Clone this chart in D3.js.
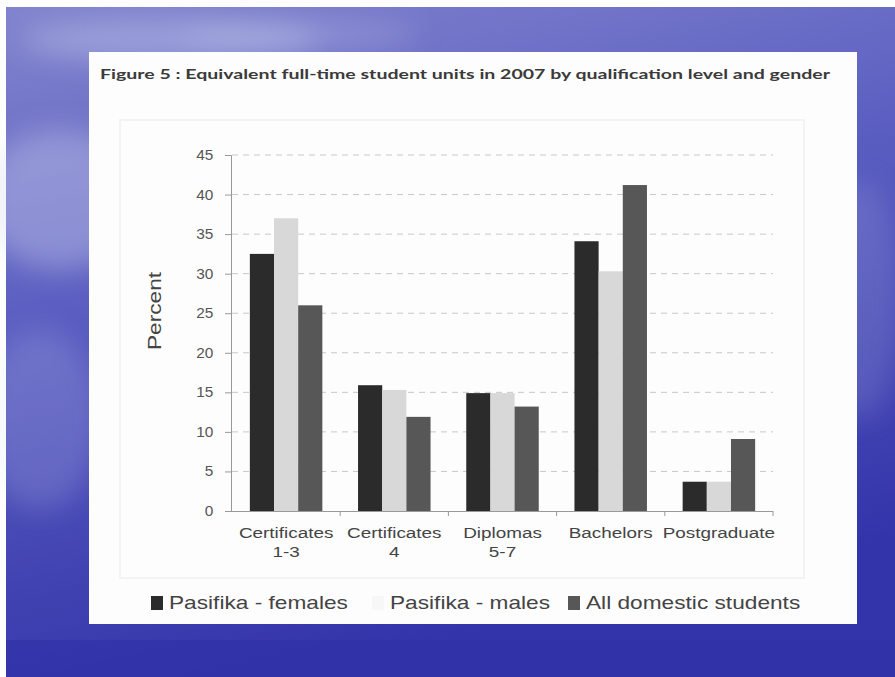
<!DOCTYPE html>
<html lang="en">
<head>
<meta charset="UTF-8">
<title>Figure 5</title>
<script src="https://d3js.org/d3.v7.min.js"></script>
<style>
  body { margin: 0; background: #fff; }
  svg { display: block; }
  .tick text { font-family: "Liberation Sans", Arial, sans-serif; fill: #555; }
  .lbl { font-family: "Liberation Sans", Arial, sans-serif; fill: #444; }
</style>
</head>
<body>
<div id="chart"></div>
<script>
// categories and series
const categories = ["Certificates 1-3", "Certificates 4", "Diplomas 5-7", "Bachelors", "Postgraduate"];
const catLines = [["Certificates", "1-3"], ["Certificates", "4"], ["Diplomas", "5-7"], ["Bachelors"], ["Postgraduate"]];
const seriesNames = ["Pasifika - females", "Pasifika - males", "All domestic students"];
const females = [32.5, 15.9, 14.9, 34.1, 3.7];
const males = [37.0, 15.3, 14.9, 30.3, 3.7];
const allDomestic = [26.0, 11.9, 13.2, 41.2, 9.1];
const yTicks = [0, 5, 10, 15, 20, 25, 30, 35, 40, 45];

const W = 895, H = 677;
const stretch = 1.26; // the scanned figure is widened
const svg = d3.select('#chart').append('svg').attr('width', W).attr('height', H);

// slide background
const defs = svg.append('defs');
const bg = defs.append('linearGradient').attr('id', 'bg')
  .attr('x1', 0).attr('y1', 0).attr('x2', 0.3).attr('y2', 1);
bg.append('stop').attr('offset', '0%').attr('stop-color', '#8184cd');
bg.append('stop').attr('offset', '45%').attr('stop-color', '#5a5dc0');
bg.append('stop').attr('offset', '100%').attr('stop-color', '#3434aa');
const blur = defs.append('filter').attr('id', 'blur').attr('x', '-50%').attr('y', '-50%').attr('width', '200%').attr('height', '200%');
blur.append('feGaussianBlur').attr('stdDeviation', 14);

svg.append('rect').attr('x', 6).attr('y', 7).attr('width', W - 6).attr('height', H - 7).attr('fill', 'url(#bg)');
const wisps = svg.append('g').attr('filter', 'url(#blur)');
[[170, 40, 150, 22, 0.35], [60, 200, 80, 70, 0.35], [40, 420, 60, 90, 0.18], [860, 300, 40, 120, 0.15], [300, 35, 120, 14, 0.25]]
  .forEach(e => wisps.append('ellipse').attr('cx', e[0]).attr('cy', e[1]).attr('rx', e[2]).attr('ry', e[3])
    .attr('fill', '#d8dcf4').attr('opacity', e[4]));
svg.append('rect').attr('x', 6).attr('y', 640).attr('width', W).attr('height', 37).attr('fill', '#3030a6').attr('opacity', 0.6);

// white card with the scanned figure
svg.append('rect').attr('x', 89).attr('y', 52).attr('width', 768).attr('height', 572).attr('fill', '#fdfdfd');
// faint frame of the scanned chart area
svg.append('rect').attr('x', 120).attr('y', 120).attr('width', 684).attr('height', 458)
  .attr('fill', 'none').attr('stroke', '#f3f3f3').attr('stroke-width', 2);

svg.append('text')
  .attr('x', 100).attr('y', 79)
  .attr('textLength', 730).attr('lengthAdjust', 'spacingAndGlyphs')
  .style('font-family', 'Lato, sans-serif').style('font-weight', 'bold')
  .style('font-size', '14px').style('fill', '#3a3a3a')
  .text('Figure 5 : Equivalent full-time student units in 2007 by qualification level and gender');

// scales
const x0 = d3.scaleBand().domain(categories).range([232, 773]).paddingInner(0.33).paddingOuter(0.165);
const x1 = d3.scaleBand().domain(seriesNames).range([0, x0.bandwidth()]);
const y = d3.scaleLinear().domain([0, 45]).range([511, 155]);
const color = d3.scaleOrdinal().domain(seriesNames).range(['#2b2b2b', '#d8d8d8', '#575757']);

// dashed gridlines
svg.append('g').selectAll('line').data(yTicks.slice(1)).join('line')
  .attr('x1', 232).attr('x2', 773)
  .attr('y1', d => y(d)).attr('y2', d => y(d))
  .attr('stroke', '#c8c8c8').attr('stroke-width', 1).attr('stroke-dasharray', '6,5');

// y axis
const yAxis = svg.append('g').attr('transform', 'translate(231,0)')
  .call(d3.axisLeft(y).tickValues(yTicks).tickSize(6).tickPadding(10));
yAxis.select('.domain').attr('stroke', '#999');
yAxis.selectAll('.tick line').attr('stroke', '#999');
yAxis.selectAll('.tick text').style('font-size', '14px').attr('transform', 'scale(1.1,1)');

svg.append('text').attr('class', 'lbl')
  .attr('transform', `translate(161,311) rotate(-90) scale(${stretch},1)`)
  .attr('text-anchor', 'middle')
  .style('font-size', '18px')
  .text('Percent');

// bars
const table = categories.map((c, i) => ({ cat: c, vals: [females[i], males[i], allDomestic[i]] }));
svg.append('g').selectAll('g').data(table).join('g')
  .attr('transform', d => `translate(${x0(d.cat)},0)`)
  .selectAll('rect').data(d => d.vals.map((v, j) => ({ key: seriesNames[j], v })))
  .join('rect')
  .attr('x', d => x1(d.key)).attr('width', x1.bandwidth())
  .attr('y', d => y(d.v)).attr('height', d => y(0) - y(d.v))
  .attr('fill', d => color(d.key));

// x axis
const step = x0.step();
svg.append('line').attr('x1', 231).attr('x2', 773).attr('y1', 511.5).attr('y2', 511.5).attr('stroke', '#999');
svg.append('g').selectAll('line').data(d3.range(1, categories.length + 1)).join('line')
  .attr('x1', i => 232 + i * step).attr('x2', i => 232 + i * step)
  .attr('y1', 511).attr('y2', 516).attr('stroke', '#999');

const xl = svg.append('g').selectAll('text').data(categories).join('text')
  .attr('class', 'lbl')
  .attr('transform', d => `translate(${x0(d) + x0.bandwidth() / 2},538) scale(${stretch},1)`)
  .attr('text-anchor', 'middle')
  .style('font-size', '15px');
xl.selectAll('tspan').data((d, i) => catLines[i]).join('tspan')
  .attr('x', 0)
  .attr('dy', (d, i) => i === 0 ? 0 : 19)
  .text(d => d);

// legend
const legendX = [151, 372, 568];
const lg = svg.append('g').selectAll('g').data(seriesNames).join('g')
  .attr('transform', (d, i) => `translate(${legendX[i]},596)`);
lg.append('rect').attr('width', 12).attr('height', 14)
  .attr('fill', (d, i) => i === 1 ? '#f7f7f7' : color(d));
lg.append('text').attr('class', 'lbl')
  .attr('transform', `translate(18,13) scale(${stretch},1)`)
  .style('font-size', '18px')
  .text(d => d);
</script>
</body>
</html>
